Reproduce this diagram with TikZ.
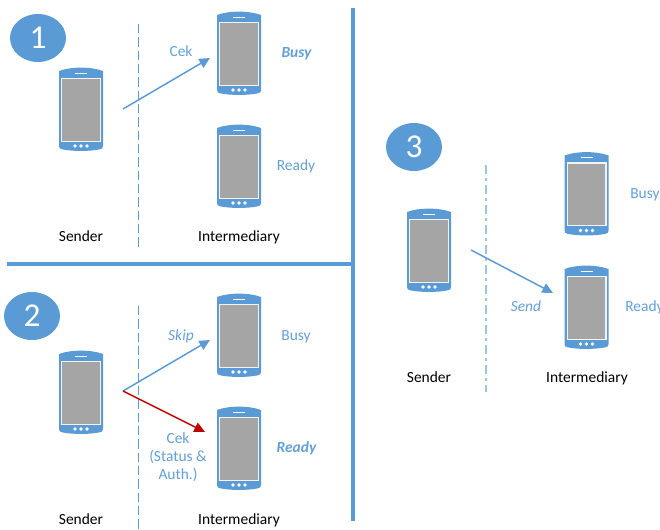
\documentclass[tikz,border=0pt]{standalone}
\usepackage{fontspec}
\setmainfont{Carlito}
\usetikzlibrary{arrows.meta,shapes.geometric}
\definecolor{pblue}{RGB}{91,155,213}
\definecolor{tblue}{RGB}{100,160,215}
\definecolor{lblue}{RGB}{157,195,230}
\definecolor{sgrey}{RGB}{165,165,165}
\definecolor{dred}{RGB}{192,0,0}
\tikzset{
  x=0.75pt,y=-0.75pt,
  badge/.style={ellipse,fill=pblue,text=white,minimum width=42pt,minimum height=36pt,inner sep=0pt,font=\fontsize{25}{25}\selectfont},
  lab/.style={text=black,font=\fontsize{11.6}{13.5}\selectfont,inner sep=0pt,anchor=base},
  stat/.style={text=tblue,font=\fontsize{11.6}{13.5}\selectfont,inner sep=0pt,align=center,anchor=base},
  statb/.style={stat,font=\fontsize{11.6}{13.5}\selectfont\bfseries\itshape},
  stati/.style={stat,font=\fontsize{11.6}{13.5}\selectfont\itshape},
  phoneanchor/.style={minimum width=33pt,minimum height=62.5pt,inner sep=0pt,outer sep=0pt},
  bigrule/.style={draw=pblue,line width=3.4pt},
  divider/.style={draw=pblue,line width=0.75pt,dash pattern=on 7pt off 3pt},
  divlight/.style={draw=lblue,line width=1.2pt,dash pattern=on 7pt off 3pt on 2pt off 3pt},
  conn/.style={draw=pblue,line width=1.1pt,-{Triangle[length=8pt,width=7.5pt]}},
  connred/.style={draw=dred,line width=1.1pt,-{Triangle[length=8pt,width=7.5pt]}},
}
\newcommand{\phone}[3]{%
  \node[phoneanchor] (#1) at (#2,#3) {};
  \begin{scope}[shift={(#2,#3)}]
    \fill[pblue] (-22,-38) .. controls (-10,-42.5) and (10,-42.5) .. (22,-38)
      -- (22,37) .. controls (22,39) and (21,40) .. (19,40.3)
      .. controls (8,42.5) and (-8,42.5) .. (-19,40.3)
      .. controls (-21,40) and (-22,39) .. (-22,37) -- cycle;
    \fill[white!88!sgrey] (-20,-31) rectangle (20,33);
    \fill[sgrey] (-18.7,-29.7) rectangle (18.7,31.7);
    \draw[white,line width=0.75pt] (-6,-35.5) -- (6,-35.5);
    \foreach \d in {-6,0,6}{\fill[white] (\d,37) circle (1.9);}
  \end{scope}}
\begin{document}
\begin{tikzpicture}
\useasboundingbox (0,0) rectangle (660,530);
\clip (0,0) rectangle (660,530);
\fill[white] (0,0) rectangle (660,530);

% section rules
\coordinate (hl) at (7,264); \coordinate (hr) at (353,264);
\coordinate (vt) at (353,8); \coordinate (vb) at (353,521);
\draw[bigrule] (hl) -- (hr);
\draw[bigrule] (vt) -- (vb);

% badges
\node[badge] (b1) at (38,38) {1};
\node[badge] (b2) at (32,316) {2};
\node[badge] (b3) at (414,147) {3};

% dividers
\coordinate (d1a) at (138.5,24); \coordinate (d1b) at (138.5,250);
\coordinate (d2a) at (138.5,306); \coordinate (d2b) at (138.5,530);
\coordinate (d3a) at (486,165); \coordinate (d3b) at (486,392);
\draw[divider] (d1a) -- (d1b);
\draw[divider] (d2a) -- (d2b);
\draw[divlight] (d3a) -- (d3b);

% phones
\phone{s1}{81}{109}
\phone{i1a}{239}{53}
\phone{i1b}{239}{166}
\phone{s2}{81}{392}
\phone{i2a}{239}{335}
\phone{i2b}{239}{448}
\phone{s3}{429}{250}
\phone{i3a}{586.5}{193.5}
\phone{i3b}{586.5}{307}

% labels
\node[lab] (ls1) at (81,241.5) {Sender};
\node[lab] (li1) at (239,241.5) {Intermediary};
\node[lab] (ls2) at (81,524) {Sender};
\node[lab] (li2) at (239,524) {Intermediary};
\node[lab] (ls3) at (429,383) {Sender};
\node[lab] (li3) at (587,383) {Intermediary};

\node[stat] (t1) at (181,57) {Cek};
\node[statb] (t2) at (296.5,57.5) {Busy};
\node[stat] (t3) at (296,171) {Ready};
\node[stati] (t4) at (181,341) {Skip};
\node[stat] (t5) at (296,341) {Busy};
\node[stat,anchor=center] (t6) at (178,457) {Cek\\(Status \&\\Auth.)};
\node[statb] (t7) at (296.5,453) {Ready};
\node[stati] (t8) at (526,312) {Send};
\node[stat,anchor=base west] (t9) at (630,199) {Busy};
\node[stat,anchor=base west] (t10) at (625,312) {Ready};

% connectors
\coordinate (a1s) at (123,109); \coordinate (a1e) at (210,58);
\coordinate (a2s) at (123,391); \coordinate (a2e) at (210,340);
\coordinate (a3e) at (205,432);
\coordinate (a4s) at (471,250); \coordinate (a4e) at (553,293);
\draw[conn] (a1s) -- (a1e);
\draw[conn] (a2s) -- (a2e);
\draw[connred] (a2s) -- (a3e);
\draw[conn] (a4s) -- (a4e);
\end{tikzpicture}
\end{document}
